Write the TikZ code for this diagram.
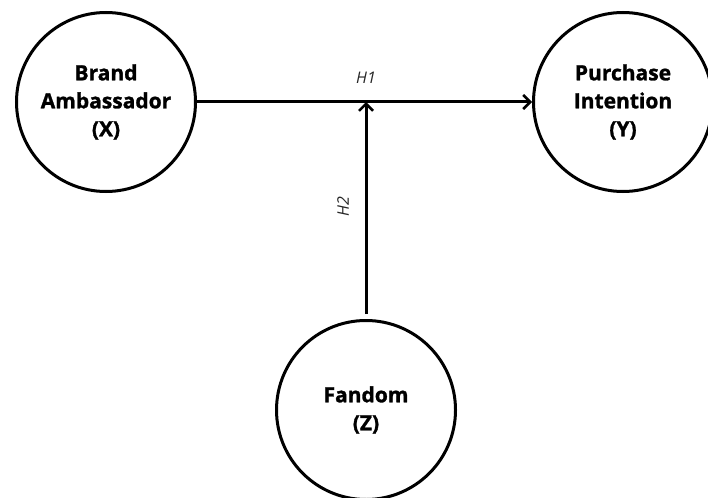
\documentclass[tikz,border=0pt]{standalone}
\usepackage{fontspec}
\setmainfont{Open Sans}[BoldFeatures={FakeBold=1.3}]
\usetikzlibrary{arrows.meta}
\begin{document}
\begin{tikzpicture}[x=1pt,y=-1pt,
  var/.style={circle,draw=black,line width=3pt,minimum size=179pt,inner sep=0pt,
    align=center,font=\fontsize{21}{28}\selectfont\bfseries,text=black},
  arr/.style={line width=3pt,-{Straight Barb[length=7pt,width=14pt,line width=2.5pt]}},
  hyp/.style={font=\fontsize{16}{18}\selectfont\itshape,text=black!85}]
\useasboundingbox (0,0) rectangle (708,497);
\node[var] (L) at (106,102) {Brand\\Ambassador\\(X)};
\node[var] (R) at (623,102) {Purchase\\Intention\\(Y)};
\node[var] (Z) at (366,410) {Fandom\\(Z)};
\coordinate (J) at (Z.north |- L.east);
\draw[arr] (L.east) -- (R.west);
\draw[arr] ([yshift=5pt]Z.north) -- (J);
\node[hyp] (h1) at (366,78) {H1};
\node[hyp,rotate=90] (h2) at (343,207) {H2};
\end{tikzpicture}
\end{document}
